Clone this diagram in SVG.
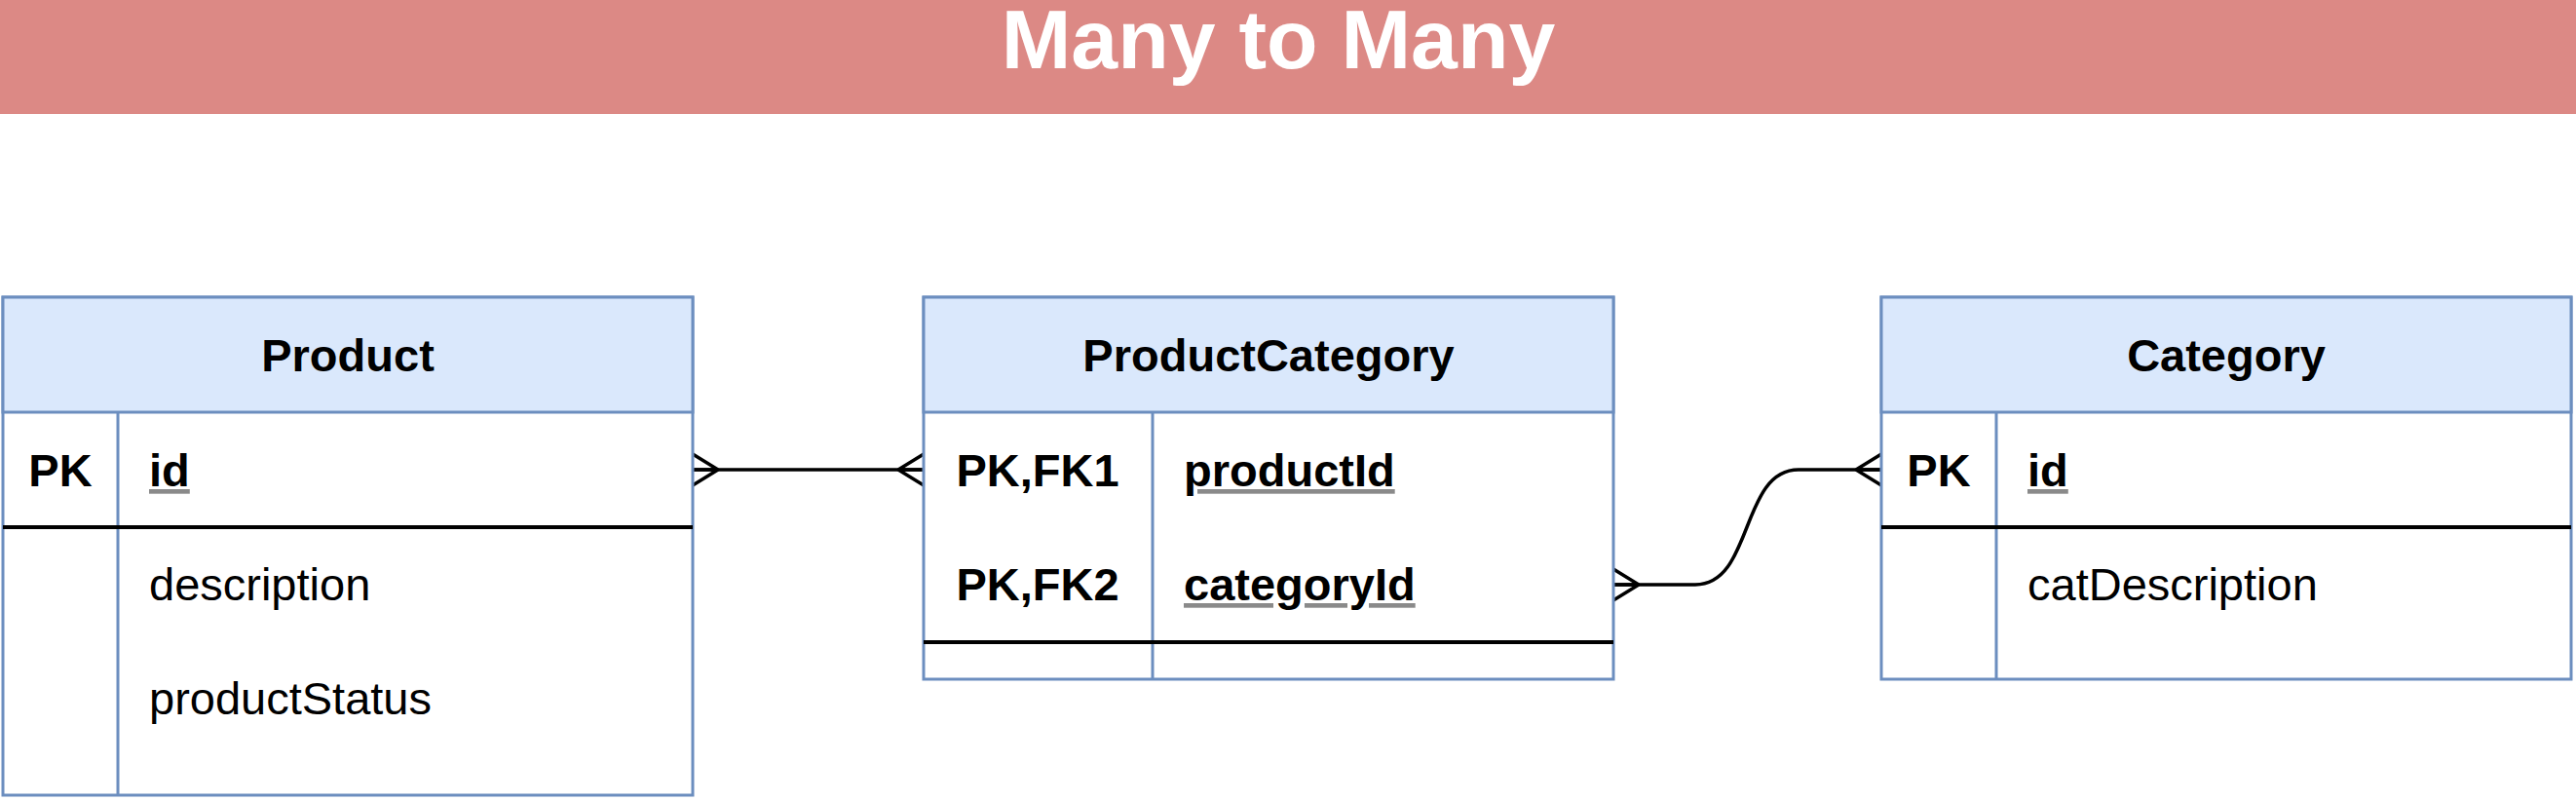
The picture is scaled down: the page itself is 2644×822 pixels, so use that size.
<svg xmlns="http://www.w3.org/2000/svg" width="2644" height="822" viewBox="0 0 2644 822">
  <style>
    text { font-family: "Liberation Sans", Arial, Helvetica, sans-serif; font-size: 47px; fill: #000; }
    .title { font-size: 86px; font-weight: bold; fill: #ffffff; text-anchor: middle; }
    .hdr { font-weight: bold; text-anchor: middle; }
    .key { font-weight: bold; text-anchor: middle; }
    text.pk { font-weight: bold; text-decoration: underline; fill: #8a8a8a; }
    .pk tspan { fill: #000000; }
    .box { fill: #ffffff; stroke: #6c8ebf; stroke-width: 3; }
    .head { fill: #dae8fc; stroke: #6c8ebf; stroke-width: 3; }
    .div { stroke: #6c8ebf; stroke-width: 3; }
    .sep { stroke: #000000; stroke-width: 4; }
    .edge { fill: none; stroke: #000000; stroke-width: 3.5; marker-start: url(#many); marker-end: url(#many); }
  </style>
  <defs>
    <marker id="many" markerUnits="userSpaceOnUse" viewBox="-32 -22 36 44" refX="0" refY="0" markerWidth="36" markerHeight="44" orient="auto-start-reverse" overflow="visible">
      <path d="M-26,0 L0,-16 M-26,0 L0,16 M-26,0 L0,0" fill="none" stroke="#000000" stroke-width="3.5"/>
    </marker>
  </defs>

  <g id="title-bar">
    <rect x="0" y="0" width="2644" height="117" fill="#dc8985"/>
    <text class="title" x="1312" y="70">Many to Many</text>
  </g>

  <g id="connectors">
    <path class="edge" d="M711,482 H948"/>
    <path class="edge" d="M1656,600 H1740 C1800,600 1786,482 1846,482 H1931"/>
  </g>

  <g id="product">
    <rect class="box" x="3" y="305" width="708" height="511"/>
    <rect class="head" x="3" y="305" width="708" height="118"/>
    <line class="div" x1="121" y1="423" x2="121" y2="816"/>
    <line class="sep" x1="3" y1="541" x2="711" y2="541"/>
    <text class="hdr" x="357" y="381">Product</text>
    <text class="key" x="62" y="499">PK</text>
    <text class="pk" x="153" y="499"><tspan>id</tspan></text>
    <text x="153" y="616">description</text>
    <text x="153" y="733">productStatus</text>
  </g>

  <g id="productcategory">
    <rect class="box" x="948" y="305" width="708" height="392"/>
    <rect class="head" x="948" y="305" width="708" height="118"/>
    <line class="div" x1="1183" y1="423" x2="1183" y2="697"/>
    <line class="sep" x1="948" y1="659" x2="1656" y2="659"/>
    <text class="hdr" x="1302" y="381">ProductCategory</text>
    <text class="key" x="1065" y="499">PK,FK1</text>
    <text class="pk" x="1215" y="499"><tspan>productId</tspan></text>
    <text class="key" x="1065" y="616">PK,FK2</text>
    <text class="pk" x="1215" y="616"><tspan>categoryId</tspan></text>
  </g>

  <g id="category">
    <rect class="box" x="1931" y="305" width="708" height="392"/>
    <rect class="head" x="1931" y="305" width="708" height="118"/>
    <line class="div" x1="2049" y1="423" x2="2049" y2="697"/>
    <line class="sep" x1="1931" y1="541" x2="2639" y2="541"/>
    <text class="hdr" x="2285" y="381">Category</text>
    <text class="key" x="1990" y="499">PK</text>
    <text class="pk" x="2081" y="499"><tspan>id</tspan></text>
    <text x="2081" y="616">catDescription</text>
  </g>
</svg>
